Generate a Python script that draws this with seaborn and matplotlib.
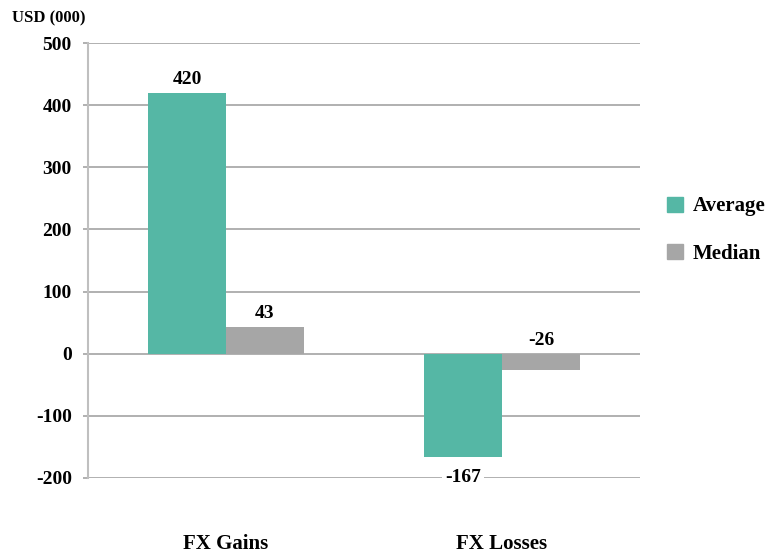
import matplotlib
matplotlib.use("Agg")
import matplotlib.pyplot as plt
import seaborn as sns
import pandas as pd

categories = ["FX Gains", "FX Losses"]
series = ["Average", "Median"]
average_values = [420, -167]
median_values = [43, -26]
y_ticks = [-200, -100, 0, 100, 200, 300, 400, 500]

rows = []
for i, cat in enumerate(categories):
    rows.append({"category": cat, "series": "Average", "value": average_values[i]})
    rows.append({"category": cat, "series": "Median", "value": median_values[i]})
df = pd.DataFrame(rows)

sns.set_style("white")
plt.rcParams["font.family"] = ["Liberation Serif", "DejaVu Serif"]
plt.rcParams["text.color"] = "black"

teal = "#55B7A5"
grey = "#A6A6A6"
grid_col = "#A3A3A3"

fig = plt.figure(figsize=(7.66, 5.56), dpi=100)
ax = fig.add_axes([88 / 766, 1 - 478 / 556, (640 - 88) / 766, (478 - 43) / 556])

sns.barplot(data=df, x="category", y="value", hue="series", hue_order=series,
            palette=[teal, grey], width=0.565, gap=0, saturation=1,
            edgecolor="none", linewidth=0, ax=ax, legend=False, zorder=3)

ax.set_ylim(-200, 500)
ax.set_xlim(-0.5, 1.5)
ax.set_yticks(y_ticks)
ax.set_yticklabels([str(t) for t in y_ticks], fontsize=14, fontweight="bold")
ax.yaxis.grid(True, color=grid_col, linewidth=1.2, zorder=0)
ax.set_axisbelow(True)
for s in ["top", "right", "bottom"]:
    ax.spines[s].set_visible(False)
ax.spines["left"].set_color("#BFBFBF")
ax.spines["left"].set_linewidth(1.5)
ax.tick_params(axis="y", length=3.6, color=grid_col, width=1.2, pad=8, left=True,
               labelcolor="black")
ax.tick_params(axis="x", length=0, pad=40, labelcolor="black")
ax.set_xticklabels(categories, fontsize=15, fontweight="bold")
ax.set_xlabel("")
ax.set_ylabel("")

# value labels
offsets = [-0.1413, 0.1413]
for j, vals in enumerate([average_values, median_values]):
    for i, v in enumerate(vals):
        x = i + offsets[j]
        if v >= 0:
            ax.text(x, v + 8, str(v), ha="center", va="bottom", fontsize=14,
                    fontweight="bold", zorder=5)
        elif v > -60:
            ax.text(x, 8, str(v), ha="center", va="bottom", fontsize=14,
                    fontweight="bold", zorder=5)
        else:
            ax.text(x, v - 19, str(v), ha="center", va="top", fontsize=14,
                    fontweight="bold", zorder=5,
                    bbox=dict(facecolor="white", edgecolor="none", pad=2))

fig.text(12 / 766, 1 - 18 / 556, "USD (000)", ha="left", va="center",
         fontsize=12, fontweight="bold")

handles = [plt.Rectangle((0, 0), 1, 1, color=teal),
           plt.Rectangle((0, 0), 1, 1, color=grey)]
fig.legend(handles, series, loc="center left", bbox_to_anchor=(667 / 766, 1 - 230 / 556),
           frameon=False, borderpad=0, borderaxespad=0,
           handlelength=0.75, handleheight=0.75, handletextpad=0.5,
           labelspacing=1.3, prop={"size": 15, "weight": "bold"}, labelcolor="black")

fig.savefig("out.png", dpi=100)
